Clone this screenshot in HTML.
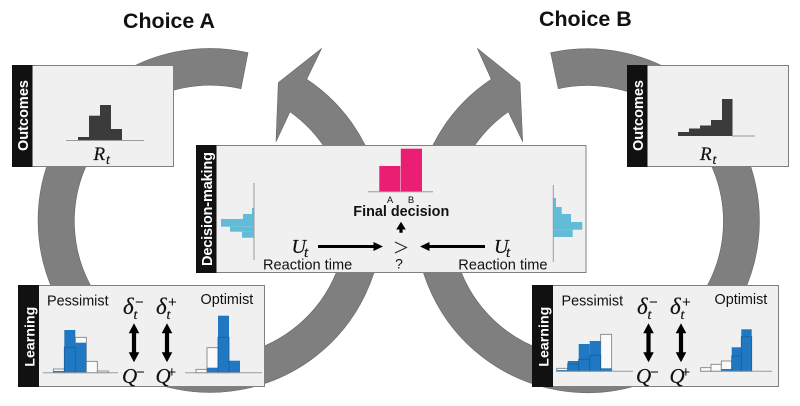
<!DOCTYPE html>
<html><head><meta charset="utf-8"><style>
html,body{margin:0;padding:0;background:#fff}
svg{display:block;filter:blur(.35px)}
text{font-family:"Liberation Sans",sans-serif;fill:#111}
.m{font-family:"Liberation Serif",serif;font-style:italic;stroke:#111;stroke-width:.2}
.lab{fill:#fff;font-weight:bold;text-anchor:middle}
.p{fill:#f0f0f0;stroke:#808080;stroke-width:1}
.ol{fill:#fafafa;stroke:#777;stroke-width:.8}
.bl{fill:#1f78c1}
.bd{fill:none;stroke:#1b5f99;stroke-width:.8}
.dk{fill:#3b3b3b}
.pk{fill:#ea1e72}
.cy{fill:#62bcd8}
.ax{stroke:#9a9a9a;stroke-width:1;fill:none}
.r{fill:#7f7f7f;stroke:#666;stroke-width:.6}
</style></head><body>
<svg width="800" height="406" viewBox="0 0 800 406" xmlns="http://www.w3.org/2000/svg">
<!-- rings -->
<path class="r" d="M248 52.7A172 172 0 1 0 364.6 145L365 145A172 172 0 0 0 306.7 79.3L321.7 48.3L278.3 82.7L276 141.7L290 111.7A136 136 0 0 1 323 145A136 136 0 1 1 241 88.7Z"/>
<path class="r" d="M550.7 52.7A172 172 0 1 1 433 145A172 172 0 0 1 491.3 79.3L477.3 48.3L520 82.7L522.7 141.7L508.3 111.7A136 136 0 0 0 475 145A136 136 0 1 0 558.3 88.7Z"/>

<text x="123" y="28" font-size="21.4" font-weight="bold">Choice A</text>
<text x="539" y="26" font-size="21.4" font-weight="bold">Choice B</text>

<!-- Outcomes left -->
<rect class="p" x="12.5" y="65.5" width="161" height="101"/>
<rect x="12" y="65" width="20.5" height="102" fill="#111"/>
<text class="lab" transform="translate(28,115.5) rotate(-90)" font-size="14.5" textLength="71">Outcomes</text>
<rect class="dk" x="78" y="137" width="11" height="3.5"/>
<rect class="dk" x="89" y="115.7" width="11" height="24.8"/>
<rect class="dk" x="100" y="105" width="11" height="35.5"/>
<rect class="dk" x="111" y="129" width="11" height="11.5"/>
<path class="ax" d="M66 140.5H144"/>
<text class="m" x="93.5" y="160" font-size="19">R</text><text class="m" x="106" y="164" font-size="14">t</text>

<!-- Outcomes right -->
<rect class="p" x="627.5" y="65.5" width="161" height="101"/>
<rect x="627" y="65" width="20.5" height="102" fill="#111"/>
<text class="lab" transform="translate(643,115.5) rotate(-90)" font-size="14.5" textLength="71">Outcomes</text>
<rect class="dk" x="678" y="132" width="11" height="4"/>
<rect class="dk" x="689" y="128.5" width="11" height="7.5"/>
<rect class="dk" x="700" y="125.5" width="11" height="10.5"/>
<rect class="dk" x="711" y="120" width="11" height="16"/>
<rect class="dk" x="722" y="99" width="10.5" height="37"/>
<path class="ax" d="M732 136H755"/>
<text class="m" x="700" y="160" font-size="19">R</text><text class="m" x="712.5" y="164" font-size="14">t</text>

<!-- Decision -->
<rect class="p" x="196.5" y="145.5" width="389.5" height="127"/>
<rect x="196" y="145" width="20.5" height="128" fill="#111"/>
<text class="lab" transform="translate(212,209) rotate(-90)" font-size="14.5" textLength="114">Decision-making</text>
<rect class="pk" x="379.3" y="166" width="21" height="25.7"/>
<rect class="pk" x="400.8" y="148.7" width="21.2" height="43"/>
<path class="ax" d="M368 191.7H433"/>
<text x="390" y="203" font-size="9.5" text-anchor="middle" fill="#333">A</text>
<text x="411" y="203" font-size="9.5" text-anchor="middle" fill="#333">B</text>
<text x="353.3" y="216" font-size="14.4" font-weight="bold">Final decision</text>
<path d="M401 221.7L405.8 229.5H402.6V232.7H399.4V229.5H396.2Z" fill="#000"/>
<path d="M395 242L406.5 247.5L395 253" fill="none" stroke="#222" stroke-width="1"/>
<text x="399" y="268.5" font-size="14" text-anchor="middle">?</text>
<!-- horizontal arrows -->
<path d="M318 245H373.5V242L383 246.5L373.5 251V248H318Z" fill="#000"/>
<path d="M485 245H429.5V242L420 246.5L429.5 251V248H485Z" fill="#000"/>
<text class="m" x="291.5" y="253" font-size="20">U</text><text class="m" x="304" y="257" font-size="15">t</text>
<text class="m" x="494" y="253" font-size="20">U</text><text class="m" x="506" y="257" font-size="15">t</text>
<text x="263" y="269.5" font-size="14.6">Reaction time</text>
<text x="458.3" y="269.5" font-size="14.6">Reaction time</text>
<!-- left cyan -->
<rect class="cy" x="252" y="208" width="2" height="6"/>
<rect class="cy" x="243" y="214" width="11" height="5"/>
<rect class="cy" x="221" y="219" width="33" height="7.7"/>
<rect class="cy" x="230" y="226.7" width="24" height="5"/>
<rect class="cy" x="242" y="231.7" width="12" height="6"/>
<path class="ax" d="M254 183V260"/>
<!-- right cyan -->
<rect class="cy" x="553.5" y="198" width="2.5" height="9"/>
<rect class="cy" x="553.5" y="207" width="8.2" height="7"/>
<rect class="cy" x="553.5" y="214" width="17.5" height="8"/>
<rect class="cy" x="553.5" y="222" width="28.8" height="7.7"/>
<rect class="cy" x="553.5" y="229.7" width="19.2" height="7.3"/>
<path class="ax" d="M553.3 185V262"/>

<!-- Learning left -->
<rect class="p" x="18.5" y="285.5" width="246" height="101"/>
<rect x="18" y="285" width="21" height="102" fill="#111"/>
<text class="lab" transform="translate(34.5,336.7) rotate(-90)" font-size="14.2" textLength="60">Learning</text>
<text x="47" y="305.6" font-size="14.4">Pessimist</text>
<text x="200.5" y="304" font-size="14.4">Optimist</text>
<rect class="ol" x="53.3" y="369" width="11" height="3.7"/>
<rect class="ol" x="75.3" y="337.3" width="11" height="35.4"/>
<rect class="ol" x="86.3" y="361.3" width="11" height="11.4"/>
<rect class="ol" x="97.3" y="371" width="11" height="1.7"/>
<rect class="bl" x="53.3" y="371" width="11" height="1.7"/>
<rect class="bl" x="64.3" y="330" width="11" height="42.7"/>
<rect class="bl" x="75.3" y="342.7" width="11" height="30"/>
<rect class="bd" x="64.3" y="347.3" width="11" height="25.4"/>
<path class="ax" d="M42.7 372.7H118"/>
<rect class="ol" x="196" y="369.3" width="11" height="3.4"/>
<rect class="ol" x="207" y="347.7" width="11" height="25"/>
<rect class="bl" x="207" y="367.7" width="11" height="5"/>
<rect class="bl" x="218" y="315.7" width="11" height="57"/>
<rect class="bl" x="229" y="360.7" width="11" height="12"/>
<rect class="bd" x="218" y="337.3" width="11" height="35.4"/>
<path class="ax" d="M185 372.7H262"/>
<path d="M134 323.3L139.3 333.3H136.1V352.3H139.3L134 362.3L128.7 352.3H131.9V333.3H128.7Z" fill="#000"/>
<path d="M167 323.3L172.3 333.3H169.1V352.3H172.3L167 362.3L161.7 352.3H164.9V333.3H161.7Z" fill="#000"/>
<text class="m" x="123" y="314" font-size="23">δ</text><text class="m" x="133.5" y="319" font-size="14">t</text><text x="135" y="307" font-size="15">−</text>
<text class="m" x="156" y="314" font-size="23">δ</text><text class="m" x="166.5" y="319" font-size="14">t</text><text x="168" y="307" font-size="15">+</text>
<text class="m" x="122" y="383" font-size="21">Q</text><text x="136" y="377" font-size="15">−</text>
<text class="m" x="155.5" y="383" font-size="21">Q</text><text x="167.5" y="377" font-size="15">+</text>

<!-- Learning right -->
<rect class="p" x="532.5" y="285.5" width="246" height="101"/>
<rect x="532" y="285" width="21" height="102" fill="#111"/>
<text class="lab" transform="translate(548.5,336.7) rotate(-90)" font-size="14.2" textLength="60">Learning</text>
<text x="561.5" y="305.6" font-size="14.4">Pessimist</text>
<text x="714.5" y="304" font-size="14.4">Optimist</text>
<rect class="ol" x="556.7" y="368.3" width="11" height="3"/>
<rect class="ol" x="600.7" y="334.3" width="11" height="37"/>
<rect class="bl" x="556.7" y="370" width="11" height="1.3"/>
<rect class="bl" x="567.7" y="361" width="11" height="10.3"/>
<rect class="bl" x="578.7" y="344" width="11" height="27.3"/>
<rect class="bl" x="589.7" y="341" width="11" height="30.3"/>
<rect class="bl" x="600.7" y="368.3" width="11" height="3"/>
<rect class="bd" x="567.7" y="364" width="11" height="7.3"/>
<rect class="bd" x="578.7" y="359.3" width="11" height="12"/>
<rect class="bd" x="589.7" y="355.3" width="11" height="16"/>
<path class="ax" d="M556 371.3H633"/>
<rect class="ol" x="700.7" y="367.7" width="10.3" height="3.6"/>
<rect class="ol" x="711" y="364.3" width="10.3" height="7"/>
<rect class="ol" x="721.3" y="361" width="10.4" height="10.3"/>
<rect class="bl" x="721.3" y="369" width="10.4" height="2.3"/>
<rect class="bl" x="731.7" y="347.3" width="9.6" height="24"/>
<rect class="bl" x="741.3" y="329.3" width="10.4" height="42"/>
<rect class="bd" x="731.7" y="356" width="9.6" height="15.3"/>
<rect class="bd" x="741.3" y="336.7" width="10.4" height="34.6"/>
<path class="ax" d="M700 371.3H772"/>
<path d="M648.5 323.3L653.8 333.3H650.6V352.3H653.8L648.5 362.3L643.2 352.3H646.4V333.3H643.2Z" fill="#000"/>
<path d="M681 323.3L686.3 333.3H683.1V352.3H686.3L681 362.3L675.7 352.3H678.9V333.3H675.7Z" fill="#000"/>
<text class="m" x="637" y="314" font-size="23">δ</text><text class="m" x="647.5" y="319" font-size="14">t</text><text x="649" y="307" font-size="15">−</text>
<text class="m" x="670" y="314" font-size="23">δ</text><text class="m" x="680.5" y="319" font-size="14">t</text><text x="682" y="307" font-size="15">+</text>
<text class="m" x="636" y="383" font-size="21">Q</text><text x="650" y="377" font-size="15">−</text>
<text class="m" x="669.5" y="383" font-size="21">Q</text><text x="681.5" y="377" font-size="15">+</text>
</svg>
</body></html>
